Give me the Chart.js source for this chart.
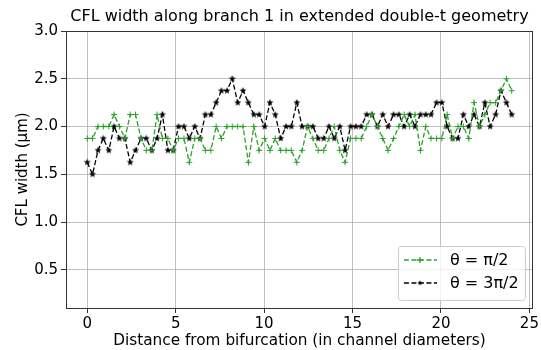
<!DOCTYPE html>
<html>
<head>
<meta charset="utf-8">
<script src="https://cdn.jsdelivr.net/npm/chart.js@4.4.1/dist/chart.umd.min.js"></script>
<style>
    html, body { margin: 0; padding: 0; background: #fff; }
    #wrap { width: 541px; height: 350px; }
</style>
</head>
<body>
<div id="wrap"><canvas id="cfl" width="541" height="350"></canvas></div>
<script>
// distance from bifurcation (channel diameters)
const distance = [
    0.00, 0.30, 0.61, 0.91, 1.22, 1.52, 1.82, 2.13, 2.43, 2.73,
    3.04, 3.34, 3.65, 3.95, 4.25, 4.56, 4.86, 5.16, 5.47, 5.77,
    6.08, 6.38, 6.68, 6.99, 7.29, 7.59, 7.90, 8.20, 8.51, 8.81,
    9.11, 9.42, 9.72, 10.03, 10.33, 10.63, 10.94, 11.24, 11.54, 11.85,
    12.15, 12.46, 12.76, 13.06, 13.37, 13.67, 13.97, 14.28, 14.58, 14.89,
    15.19, 15.49, 15.80, 16.10, 16.41, 16.71, 17.01, 17.32, 17.62, 17.92,
    18.23, 18.53, 18.84, 19.14, 19.44, 19.75, 20.05, 20.35, 20.66, 20.96,
    21.27, 21.57, 21.87, 22.18, 22.48, 22.78, 23.09, 23.39, 23.70, 24.00
];

// theta = pi/2 (green)
const widthHalfPi = [
    1.875, 1.875, 2.0, 2.0, 2.0, 2.125, 2.0, 1.875, 2.125, 2.125,
    1.875, 1.75, 1.75, 2.125, 1.875, 1.875, 1.75, 1.875, 1.875, 1.625,
    1.875, 1.875, 1.75, 1.75, 2.0, 1.875, 2.0, 2.0, 2.0, 2.0,
    1.625, 2.0, 1.75, 1.875, 1.75, 1.875, 1.75, 1.75, 1.75, 1.625,
    1.75, 2.0, 1.875, 1.75, 1.75, 1.875, 2.0, 1.75, 1.625, 1.875,
    1.875, 1.875, 2.0, 2.125, 2.0, 1.875, 1.75, 1.875, 2.0, 2.125,
    2.0, 2.125, 1.75, 2.0, 1.875, 1.875, 1.875, 2.125, 1.875, 2.0,
    2.0, 1.875, 2.25, 2.0, 2.125, 2.25, 2.25, 2.375, 2.5, 2.375
];

// theta = 3pi/2 (black)
const widthThreeHalfPi = [
    1.625, 1.5, 1.75, 1.875, 1.75, 2.0, 1.875, 1.875, 1.625, 1.75,
    1.875, 1.875, 1.75, 1.875, 2.125, 1.75, 1.75, 2.0, 2.0, 1.875,
    2.0, 1.875, 2.125, 2.125, 2.25, 2.375, 2.375, 2.5, 2.25, 2.375,
    2.25, 2.125, 2.125, 2.0, 2.25, 2.125, 1.875, 2.0, 2.0, 2.25,
    2.0, 2.0, 2.0, 1.875, 1.875, 2.0, 1.875, 2.0, 1.75, 2.0,
    2.0, 2.0, 2.125, 2.125, 2.0, 2.125, 2.0, 2.125, 2.125, 2.0,
    2.125, 2.0, 2.125, 2.125, 2.125, 2.25, 2.25, 2.0, 1.875, 1.875,
    2.125, 2.0, 2.125, 2.0, 2.25, 2.0, 2.125, 2.375, 2.25, 2.125
];

const xTicks = [0, 5, 10, 15, 20, 25];
const yTicks = [0.5, 1.0, 1.5, 2.0, 2.5, 3.0];

const TITLE = "CFL width along branch 1 in extended double-t geometry";
const FONT = "'DejaVu Sans', sans-serif";
const GREEN = "#2ca02c";
const BLACK = "#000000";

// small filled star, like matplotlib '*'
function makeStar(size, color) {
    const c = document.createElement("canvas");
    c.width = size; c.height = size;
    const g = c.getContext("2d");
    const cx = size / 2, cy = size / 2, ro = size / 2 - 0.3, ri = ro * 0.42;
    g.beginPath();
    for (let k = 0; k < 10; k++) {
        const r = k % 2 ? ri : ro;
        const a = -Math.PI / 2 + k * Math.PI / 5;
        g.lineTo(cx + r * Math.cos(a), cy + r * Math.sin(a));
    }
    g.closePath();
    g.fillStyle = color;
    g.fill();
    return c;
}
const starImg = makeStar(8, BLACK);

function pts(ys) {
    return distance.map((x, i) => ({ x, y: ys[i] }));
}

// title centred over the plot area, not the whole canvas
const axesTitle = {
    id: "axesTitle",
    afterDraw(chart) {
        const { ctx, chartArea: ca } = chart;
        ctx.save();
        ctx.fillStyle = "#000";
        ctx.font = "16px " + FONT;
        ctx.textAlign = "center";
        ctx.textBaseline = "middle";
        ctx.fillText(TITLE, (ca.left + ca.right) / 2, 17);
        ctx.restore();
    }
};

// legend drawn in a box inside the plot (bottom right)
const boxLegend = {
    id: "boxLegend",
    afterDraw(chart) {
        const { ctx, chartArea: ca } = chart;
        const w = 127, h = 54;
        const x0 = ca.right - 8 - w, y0 = ca.bottom - 8 - h;
        ctx.save();
        ctx.beginPath();
        ctx.roundRect(x0 + 0.5, y0 + 0.5, w, h, 3);
        ctx.fillStyle = "rgba(255,255,255,0.8)";
        ctx.fill();
        ctx.strokeStyle = "#cccccc";
        ctx.lineWidth = 1;
        ctx.stroke();

        const rows = [
            { ds: chart.data.datasets[0], y: y0 + 14 },
            { ds: chart.data.datasets[1], y: y0 + 37 }
        ];
        for (const r of rows) {
            ctx.strokeStyle = r.ds.borderColor;
            ctx.lineWidth = r.ds.borderWidth;
            ctx.setLineDash(r.ds.borderDash);
            ctx.beginPath();
            ctx.moveTo(x0 + 6, r.y);
            ctx.lineTo(x0 + 39, r.y);
            ctx.stroke();
            ctx.setLineDash([]);
            const mx = x0 + 22;
            if (r.ds.pointStyle === "cross") {
                ctx.beginPath();
                ctx.moveTo(mx - 3, r.y); ctx.lineTo(mx + 3, r.y);
                ctx.moveTo(mx, r.y - 3); ctx.lineTo(mx, r.y + 3);
                ctx.stroke();
            } else {
                ctx.drawImage(starImg, mx - 3, r.y - 3, 6, 6);
            }
            ctx.fillStyle = "#000";
            ctx.font = "16px " + FONT;
            ctx.textBaseline = "middle";
            ctx.textAlign = "left";
            ctx.fillText(r.ds.label, x0 + 52, r.y + 1);
        }
        ctx.restore();
    }
};

// axes frame on all four sides
const frame = {
    id: "frame",
    afterDatasetsDraw(chart) {
        const { ctx, chartArea: ca } = chart;
        ctx.save();
        ctx.strokeStyle = "#333";
        ctx.lineWidth = 1;
        ctx.strokeRect(Math.round(ca.left) + 0.5, Math.round(ca.top) + 0.5,
            Math.round(ca.right - ca.left) - 1, Math.round(ca.bottom - ca.top));
        ctx.restore();
    }
};

new Chart(document.getElementById("cfl"), {
    type: "line",
    data: {
        datasets: [
            {
                label: "\u03b8 = \u03c0/2",
                data: pts(widthHalfPi),
                borderColor: GREEN,
                backgroundColor: GREEN,
                borderWidth: 1.3,
                borderDash: [5, 2.5],
                pointStyle: "cross",
                pointRadius: 3,
                pointBorderWidth: 1,
                pointBorderColor: GREEN,
                tension: 0,
                fill: false
            },
            {
                label: "\u03b8 = 3\u03c0/2",
                data: pts(widthThreeHalfPi),
                borderColor: BLACK,
                backgroundColor: BLACK,
                borderWidth: 1.3,
                borderDash: [5, 2.5],
                pointStyle: starImg,
                pointRadius: 4,
                tension: 0,
                fill: false
            }
        ]
    },
    options: {
        responsive: false,
        animation: false,
        devicePixelRatio: 1,
        layout: { padding: { left: 0, right: 8, top: 31, bottom: 0 } },
        plugins: {
            legend: { display: false },
            tooltip: { enabled: false },
            title: { display: false }
        },
        scales: {
            x: {
                type: "linear",
                min: -1.2,
                max: 25.2,
                afterBuildTicks: s => { s.ticks = xTicks.map(v => ({ value: v })); },
                afterFit: s => { s.height = 42; },
                ticks: {
                    color: "#000",
                    font: { family: FONT, size: 15 },
                    padding: 2,
                    maxRotation: 0,
                    autoSkip: false,
                    callback: v => String(v)
                },
                grid: { color: "#b0b0b0", lineWidth: 0.8, tickColor: "#333", tickLength: 5, tickWidth: 1 },
                border: { display: false },
                title: {
                    display: true,
                    text: "Distance from bifurcation (in channel diameters)",
                    color: "#000",
                    font: { family: FONT, size: 15.3 },
                    padding: { top: 0, bottom: 0 }
                }
            },
            y: {
                type: "linear",
                min: 0.1,
                max: 3.0,
                afterBuildTicks: s => { s.ticks = yTicks.map(v => ({ value: v })); },
                afterFit: s => { s.width = 66; },
                ticks: {
                    color: "#000",
                    font: { family: FONT, size: 15 },
                    padding: 3,
                    autoSkip: false,
                    callback: v => Number(v).toFixed(1)
                },
                grid: { color: "#b0b0b0", lineWidth: 0.8, tickColor: "#333", tickLength: 5, tickWidth: 1 },
                border: { display: false },
                title: {
                    display: true,
                    text: "CFL width (\u03bcm)",
                    color: "#000",
                    font: { family: FONT, size: 15 },
                    padding: { top: 14, bottom: 0 }
                }
            }
        }
    },
    plugins: [frame, axesTitle, boxLegend]
});
</script>
</body>
</html>
